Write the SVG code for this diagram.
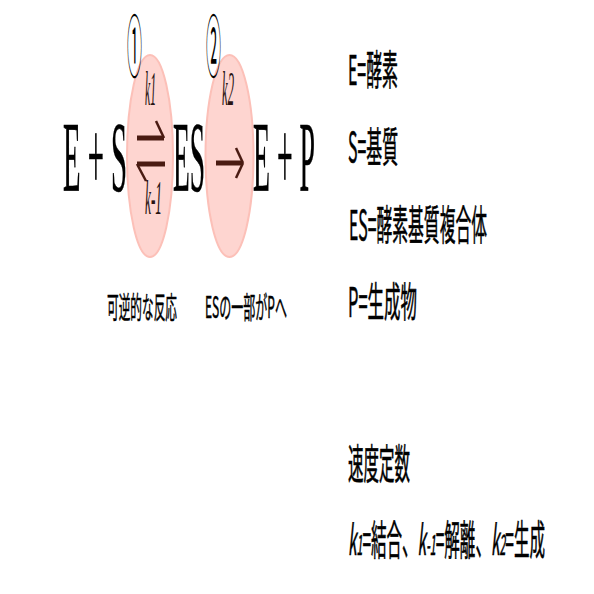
<svg xmlns="http://www.w3.org/2000/svg" width="594" height="594" viewBox="0 0 594 594">
<style>
.eq{font-family:"Liberation Serif",serif;font-size:100px;fill:#000;stroke:#000;stroke-width:0.6}
.k{font-family:"Liberation Serif",serif;font-style:italic;font-size:48px;fill:#2a1412}
.circ{font-family:"Noto Sans CJK JP",sans-serif;font-size:68px;fill:#000}
.lg{font-family:"Noto Sans CJK JP",sans-serif;font-size:41px;fill:#000;stroke:#000;stroke-width:0.6}
.lab{font-family:"Noto Sans CJK JP",sans-serif;font-size:30px;fill:#000;stroke:#000;stroke-width:0.5}
.bub{fill:#fed5d0;stroke:#fcc0b8;stroke-width:2}
.ar{stroke:#4a1b12;fill:none}
.bar{stroke-width:5}
.barb{stroke-width:2.5}
</style>
<rect width="594" height="594" fill="#fff"/>
<g id="bubble1"><ellipse class="bub" cx="150" cy="156" rx="23" ry="101"/></g>
<g id="bubble2"><ellipse class="bub" cx="229.5" cy="156" rx="24" ry="101"/></g>
<g id="node-ES-left"><text class="eq" x="63" y="190" textLength="64" lengthAdjust="spacingAndGlyphs">E + S</text></g>
<g id="node-ES"><text class="eq" x="173" y="190" textLength="32" lengthAdjust="spacingAndGlyphs">ES</text></g>
<g id="node-EP"><text class="eq" x="253" y="190" textLength="62" lengthAdjust="spacingAndGlyphs">E + P</text></g>
<g id="connectors">
<line class="ar bar" x1="137" y1="138" x2="164" y2="138"/>
<line class="ar barb" x1="164" y1="138" x2="156" y2="121"/>
<line class="ar bar" x1="137" y1="164" x2="165" y2="164"/>
<line class="ar barb" x1="137" y1="164" x2="146" y2="181"/>
<line class="ar bar" x1="216" y1="163" x2="242" y2="163"/>
<line class="ar barb" x1="243" y1="163" x2="236" y2="148"/>
<line class="ar barb" x1="243" y1="163" x2="236" y2="178"/>
</g>
<g id="rate-labels">
<text class="k" x="145" y="105" textLength="11" lengthAdjust="spacingAndGlyphs">k1</text>
<text class="k" x="222" y="105" textLength="12" lengthAdjust="spacingAndGlyphs">k2</text>
<text class="k" x="145" y="214" textLength="17" lengthAdjust="spacingAndGlyphs">k-1</text>
</g>
<g id="step1"><text class="circ" x="127" y="72" textLength="15" lengthAdjust="spacingAndGlyphs">①</text></g>
<g id="step2"><text class="circ" x="206" y="72" textLength="15" lengthAdjust="spacingAndGlyphs">②</text></g>
<g id="captions">
<text class="lab" x="107" y="318" textLength="70" lengthAdjust="spacingAndGlyphs">可逆的な反応</text>
<text class="lab" x="205" y="318" textLength="82" lengthAdjust="spacingAndGlyphs">ESの一部がPへ</text>
</g>
<g id="legend">
<text class="lg" x="348" y="85" textLength="50" lengthAdjust="spacingAndGlyphs">E=酵素</text>
<text class="lg" x="348" y="162" textLength="50" lengthAdjust="spacingAndGlyphs">S=基質</text>
<text class="lg" x="349" y="240" textLength="138" lengthAdjust="spacingAndGlyphs">ES=酵素基質複合体</text>
<text class="lg" x="348" y="317" textLength="69" lengthAdjust="spacingAndGlyphs">P=生成物</text>
<text class="lg" x="348" y="479" textLength="62" lengthAdjust="spacingAndGlyphs">速度定数</text>
<text class="lg" x="348" y="555" textLength="197" lengthAdjust="spacingAndGlyphs"><tspan font-style="italic">k</tspan><tspan font-size="28px" font-style="italic">1</tspan>=結合、<tspan font-style="italic">k</tspan><tspan font-size="28px" font-style="italic">-1</tspan>=解離、<tspan font-style="italic">k</tspan><tspan font-size="28px" font-style="italic">2</tspan>=生成</text>
</g>
</svg>
